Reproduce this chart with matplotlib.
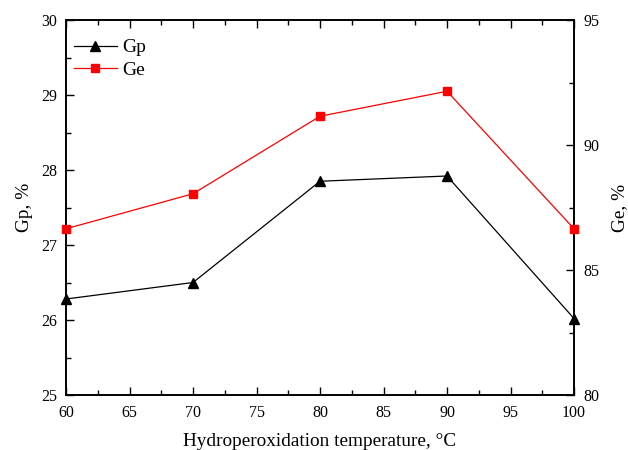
import matplotlib
matplotlib.use("Agg")
import matplotlib.pyplot as plt
from matplotlib.ticker import MultipleLocator

temperature = [60, 70, 80, 90, 100]
gp_values = [26.28, 26.50, 27.85, 27.92, 26.02]
ge_values = [86.65, 88.05, 91.15, 92.15, 86.65]

plt.rcParams["font.family"] = ["Liberation Serif", "DejaVu Serif"]
plt.rcParams["mathtext.fontset"] = "stix"

fig = plt.figure(figsize=(6.28, 4.5), dpi=100)
ax1 = fig.add_axes([66 / 628, 55 / 450, 508 / 628, 375 / 450])
ax2 = ax1.twinx()

(line_gp,) = ax1.plot(
    temperature, gp_values, color="black", linewidth=0.9,
    marker="^", markersize=7.5, clip_on=False, zorder=3, label="Gp",
)
(line_ge,) = ax2.plot(
    temperature, ge_values, color="red", linewidth=0.9,
    marker="s", markersize=6, clip_on=False, zorder=3, label="Ge",
)

ax1.set_xlim(60, 100)
ax1.set_ylim(25, 30)
ax2.set_ylim(80, 95)

ax1.xaxis.set_major_locator(MultipleLocator(5))
ax1.xaxis.set_minor_locator(MultipleLocator(2.5))
ax1.yaxis.set_major_locator(MultipleLocator(1))
ax1.yaxis.set_minor_locator(MultipleLocator(0.5))
ax2.yaxis.set_major_locator(MultipleLocator(5))
ax2.yaxis.set_minor_locator(MultipleLocator(2.5))

ax1.tick_params(which="both", direction="in", top=True, labelsize=11.5, width=1)
ax1.tick_params(axis="x", which="major", length=6, pad=7)
ax1.tick_params(axis="y", which="major", length=6, pad=6.5)
ax1.tick_params(which="minor", length=3.5)
ax2.tick_params(which="both", direction="in", labelsize=11.5, width=1)
ax2.tick_params(which="major", length=6, pad=6.5)
ax2.tick_params(which="minor", length=3.5)

for ax in (ax1, ax2):
    for spine in ax.spines.values():
        spine.set_linewidth(1.2)

ax1.set_xlabel("Hydroperoxidation temperature, °C", fontsize=13.9, labelpad=9)
ax1.set_ylabel("Gp, %", fontsize=13.9, labelpad=6)
ax2.set_ylabel("Ge, %", fontsize=13.9, labelpad=9)

ax1.legend(
    handles=[line_gp, line_ge], loc="upper left", frameon=False,
    bbox_to_anchor=(4 / 508, 1 - 15 / 375), borderaxespad=0, borderpad=0.2,
    fontsize=14, handlelength=2.2, labelspacing=0.25, handletextpad=0.3,
)

fig.savefig("out.png", dpi=100)
plt.close(fig)
